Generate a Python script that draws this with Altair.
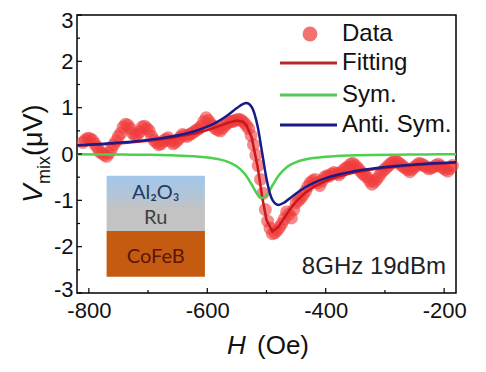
import altair as alt
import pandas as pd

# ---------------- data ----------------
H_data = [-810, -802, -794, -786, -778, -770, -762, -754, -746, -738,
          -730, -722, -714, -706, -698, -690, -682, -674, -666, -658,
          -650, -642, -634, -626, -618, -610, -602, -594, -586, -578,
          -570, -562, -554, -546, -538, -530, -522, -514, -506, -498,
          -490, -482, -474, -466, -458, -450, -442, -434, -426, -418,
          -410, -402, -394, -386, -378, -370, -362, -354, -346, -338,
          -330, -322, -314, -306, -298, -290, -282, -274, -266, -258,
          -250, -242, -234, -226, -218, -210, -202, -194, -186]
V_data = [0.25, 0.34, 0.30, 0.15, 0.02, -0.05, 0.10, 0.28, 0.45, 0.64,
          0.55, 0.40, 0.48, 0.60, 0.50, 0.30, 0.20, 0.28, 0.35, 0.22,
          0.30, 0.42, 0.38, 0.45, 0.52, 0.60, 0.78, 0.65, 0.55, 0.50,
          0.62, 0.70, 0.72, 0.75, 0.68, 0.55, 0.20, -0.25, -0.85, -1.45,
          -1.72, -1.65, -1.50, -1.25, -1.38, -1.05, -0.95, -0.80, -0.62, -0.55,
          -0.68, -0.50, -0.48, -0.40, -0.45, -0.35, -0.28, -0.20, -0.30, -0.42,
          -0.50, -0.65, -0.55, -0.40, -0.30, -0.20, -0.15, -0.22, -0.30, -0.38,
          -0.28, -0.20, -0.25, -0.32, -0.28, -0.22, -0.30, -0.37, -0.25]
H_data2 = [-806, -798, -790, -782, -774, -766, -758, -750, -742, -734,
           -726, -718, -710, -702, -694, -686, -678, -670, -662, -654,
           -646, -638, -630, -622, -614, -606, -598, -590, -582, -574,
           -566, -558, -550, -542, -534, -526, -518, -510, -502, -494,
           -486, -478, -470, -462, -454, -446, -438, -430, -422, -414,
           -406, -398, -390, -382, -374, -366, -358, -350, -342, -334,
           -326, -318, -310, -302, -294, -286, -278, -270, -262, -254,
           -246, -238, -230, -222, -214, -206, -198, -190]
V_data2 = [0.30, 0.33, 0.22, 0.05, -0.02, 0.02, 0.20, 0.38, 0.58, 0.62,
           0.45, 0.42, 0.58, 0.55, 0.38, 0.25, 0.22, 0.32, 0.28, 0.25,
           0.36, 0.40, 0.42, 0.48, 0.55, 0.70, 0.72, 0.60, 0.52, 0.56,
           0.66, 0.70, 0.74, 0.72, 0.62, 0.40, -0.02, -0.55, -1.20, -1.60,
           -1.70, -1.58, -1.40, -1.30, -1.20, -1.00, -0.88, -0.70, -0.58, -0.62,
           -0.58, -0.47, -0.43, -0.42, -0.40, -0.30, -0.22, -0.25, -0.36, -0.46,
           -0.58, -0.60, -0.48, -0.35, -0.25, -0.17, -0.18, -0.26, -0.34, -0.33,
           -0.24, -0.22, -0.28, -0.30, -0.25, -0.26, -0.33, -0.31]

H_fit = [-820, -780, -740, -700, -660, -620, -600, -580, -565, -550,
         -540, -534, -525, -515, -507, -500, -490, -480, -470, -460,
         -450, -435, -420, -400, -380, -350, -320, -290, -260, -230,
         -200, -180]
V_fit = [0.181, 0.206, 0.239, 0.284, 0.348, 0.446, 0.515, 0.602, 0.673, 0.722,
         0.697, 0.625, 0.357, -0.274, -0.950, -1.424, -1.672, -1.575, -1.378, -1.186,
         -1.025, -0.840, -0.707, -0.579, -0.489, -0.394, -0.330, -0.285, -0.249, -0.221,
         -0.199, -0.186]
V_sym = [-0.007, -0.009, -0.013, -0.018, -0.029, -0.051, -0.074, -0.114, -0.169, -0.269,
         -0.381, -0.475, -0.658, -0.873, -0.950, -0.890, -0.680, -0.475, -0.330, -0.236,
         -0.174, -0.117, -0.084, -0.057, -0.041, -0.027, -0.019, -0.015, -0.011, -0.009,
         -0.007, -0.006]
V_anti = [0.188, 0.215, 0.252, 0.302, 0.377, 0.497, 0.589, 0.716, 0.842, 0.991,
          1.078, 1.100, 1.015, 0.599, 0.000, -0.534, -0.992, -1.100, -1.048, -0.950,
          -0.851, -0.723, -0.623, -0.522, -0.448, -0.367, -0.311, -0.270, -0.238, -0.212,
          -0.192, -0.180]

x_major = [-800, -600, -400, -200]
x_minor = [-700, -500, -300]
y_major = [-3, -2, -1, 0, 1, 2, 3]
y_minor = [-2.5, -1.5, -0.5, 0.5, 1.5, 2.5]

inset_left = [-770]
inset_right = [-604]
inset_top = [-0.47]
inset_mid = [-1.66]
inset_bottom = [-2.65]
inset_labels = ["Al\u2082O\u2083", "Ru", "CoFeB"]
inset_label_H = [-687, -687, -687]
inset_label_V = [-0.84, -1.38, -2.22]
inset_label_colors = ["#1f3a66", "#404040", "#5a1606"]

note_text = ["8GHz 19dBm"]
note_H = [-197]
note_V = [-2.43]

# ---------------- chart ----------------
FONT = "Liberation Sans"
W, HGT = 379, 278
xs = alt.Scale(domain=[-820, -180], nice=False, zero=False)
ys = alt.Scale(domain=[-3, 3], nice=False, zero=False)

df_data = pd.DataFrame({"H": H_data + H_data2, "V": V_data + V_data2})
df_fit = pd.DataFrame({"H": H_fit, "fit": V_fit, "sym": V_sym, "anti": V_anti})

x_axis = alt.Axis(values=x_major, tickSize=0, domain=False, grid=False,
                  labelFontSize=22, labelFont=FONT, labelColor="#111111",
                  labelPadding=7, title=None, labelExpr="'' + datum.value")
y_axis = alt.Axis(values=y_major, tickSize=0, domain=False, grid=False,
                  labelFontSize=22, labelFont=FONT, labelColor="#111111",
                  labelPadding=4, title=None, labelExpr="'' + datum.value",
                  labelOffset={"condition": [{"test": "datum.value == 3", "value": 5},
                                             {"test": "datum.value == -3", "value": -4}],
                               "value": 0})

one = pd.DataFrame({"k": [0]})

# inset stack
df_inset = pd.DataFrame({"x": inset_left, "x2": inset_right, "t": inset_top,
                         "m": inset_mid, "b": inset_bottom})
grad = alt.Gradient(gradient="linear",
                    stops=[alt.GradientStop(color="#a2c6ea", offset=0),
                           alt.GradientStop(color="#b2c5d8", offset=0.35),
                           alt.GradientStop(color="#c3c3c3", offset=0.6),
                           alt.GradientStop(color="#c3c3c3", offset=1)],
                    x1=0, x2=0, y1=0, y2=1)
inset_top_rect = alt.Chart(df_inset).mark_rect(color=grad).encode(
    x=alt.X("x:Q", scale=xs, axis=x_axis), x2="x2:Q",
    y=alt.Y("t:Q", scale=ys, axis=y_axis), y2="m:Q")
inset_bot_rect = alt.Chart(df_inset).mark_rect(color="#c55a11").encode(
    x=alt.X("x:Q", scale=xs), x2="x2:Q",
    y=alt.Y("m:Q", scale=ys), y2="b:Q")
df_ilab = pd.DataFrame({"H": inset_label_H, "V": inset_label_V,
                        "lab": inset_labels, "c": inset_label_colors})
inset_text = alt.Chart(df_ilab).mark_text(font="Lato", fontSize=20,
                                          baseline="middle").encode(
    x=alt.X("H:Q", scale=xs), y=alt.Y("V:Q", scale=ys),
    text="lab:N", color=alt.Color("c:N", scale=None))

dots = alt.Chart(df_data).mark_circle(size=170, color="#f03a3a", opacity=0.6).encode(
    x=alt.X("H:Q", scale=xs), y=alt.Y("V:Q", scale=ys))

fit_line = alt.Chart(df_fit).mark_line(color="#c8181e", strokeWidth=2.5).encode(
    x=alt.X("H:Q", scale=xs), y=alt.Y("fit:Q", scale=ys))
sym_line = alt.Chart(df_fit).mark_line(color="#4fcf4f", strokeWidth=2.5,
                                       interpolate="monotone").encode(
    x=alt.X("H:Q", scale=xs), y=alt.Y("sym:Q", scale=ys))
anti_line = alt.Chart(df_fit).mark_line(color="#1a1a8a", strokeWidth=2.5,
                                        interpolate="monotone").encode(
    x=alt.X("H:Q", scale=xs), y=alt.Y("anti:Q", scale=ys))

# inward ticks
df_xmaj = pd.DataFrame({"t": x_major})
df_xmin = pd.DataFrame({"t": x_minor})
df_ymaj = pd.DataFrame({"t": y_major})
df_ymin = pd.DataFrame({"t": y_minor})
xt1 = alt.Chart(df_xmaj).mark_rule(color="black", strokeWidth=1.2).encode(
    x=alt.X("t:Q", scale=xs), y=alt.value(HGT), y2=alt.value(HGT - 5))
xt2 = alt.Chart(df_xmin).mark_rule(color="black", strokeWidth=1.2).encode(
    x=alt.X("t:Q", scale=xs), y=alt.value(HGT), y2=alt.value(HGT - 3))
yt1 = alt.Chart(df_ymaj).mark_rule(color="black", strokeWidth=1.2).encode(
    y=alt.Y("t:Q", scale=ys), x=alt.value(0), x2=alt.value(5))
yt2 = alt.Chart(df_ymin).mark_rule(color="black", strokeWidth=1.2).encode(
    y=alt.Y("t:Q", scale=ys), x=alt.value(0), x2=alt.value(3))

note = alt.Chart(pd.DataFrame({"H": note_H, "V": note_V, "s": note_text})).mark_text(
    font=FONT, fontSize=24, align="right", baseline="middle", color="#222222").encode(
    x=alt.X("H:Q", scale=xs), y=alt.Y("V:Q", scale=ys), text="s:N")

# legend (manual)
def leg_line(color, y):
    return alt.Chart(one).mark_rule(color=color, strokeWidth=3).encode(
        x=alt.value(203), x2=alt.value(260), y=alt.value(y))

def leg_text(s, y):
    return alt.Chart(one).mark_text(font=FONT, fontSize=24, align="left",
                                    baseline="middle", color="#111111").encode(
        x=alt.value(265), y=alt.value(y), text=alt.value(s))

leg = [
    alt.Chart(one).mark_circle(size=220, color="#f03535", opacity=0.7).encode(
        x=alt.value(233), y=alt.value(19)),
    leg_text("Data", 19),
    leg_line("#b82828", 48), leg_text("Fitting", 48),
    leg_line("#55c855", 80), leg_text("Sym.", 80),
    leg_line("#1a1a8a", 110), leg_text("Anti. Sym.", 110),
]

# axis titles (manual, for italics / subscript)
def t(s, x, y, size, italic=False, angle=0, align="left"):
    kw = dict(font=FONT, fontSize=size, align=align, baseline="alphabetic",
              color="#111111", angle=angle)
    if italic:
        kw["fontStyle"] = "italic"
    return alt.Chart(one).mark_text(**kw).encode(
        x=alt.value(x), y=alt.value(y), text=alt.value(s))

titles = [
    t("H", 150, 339, 26, italic=True),
    t("(Oe)", 180, 339, 26),
    t("V", -35, 188, 28, italic=True, angle=270),
    t("mix", -27, 169, 18, angle=270),
    t("(\u03bcV)", -35, 141, 27, angle=270),
]

chart = alt.layer(
    inset_top_rect, inset_bot_rect, inset_text,
    dots, fit_line, sym_line, anti_line,
    xt1, xt2, yt1, yt2, note, *leg, *titles
).properties(
    width=W, height=HGT,
    autosize=alt.AutoSizeParams(type="none"),
    padding={"left": 69, "top": 7, "right": 22, "bottom": 70},
    background="white",
).configure_view(stroke="black", strokeWidth=1.5)

chart.save("out.html", embed_options={"renderer": "svg", "actions": False})
